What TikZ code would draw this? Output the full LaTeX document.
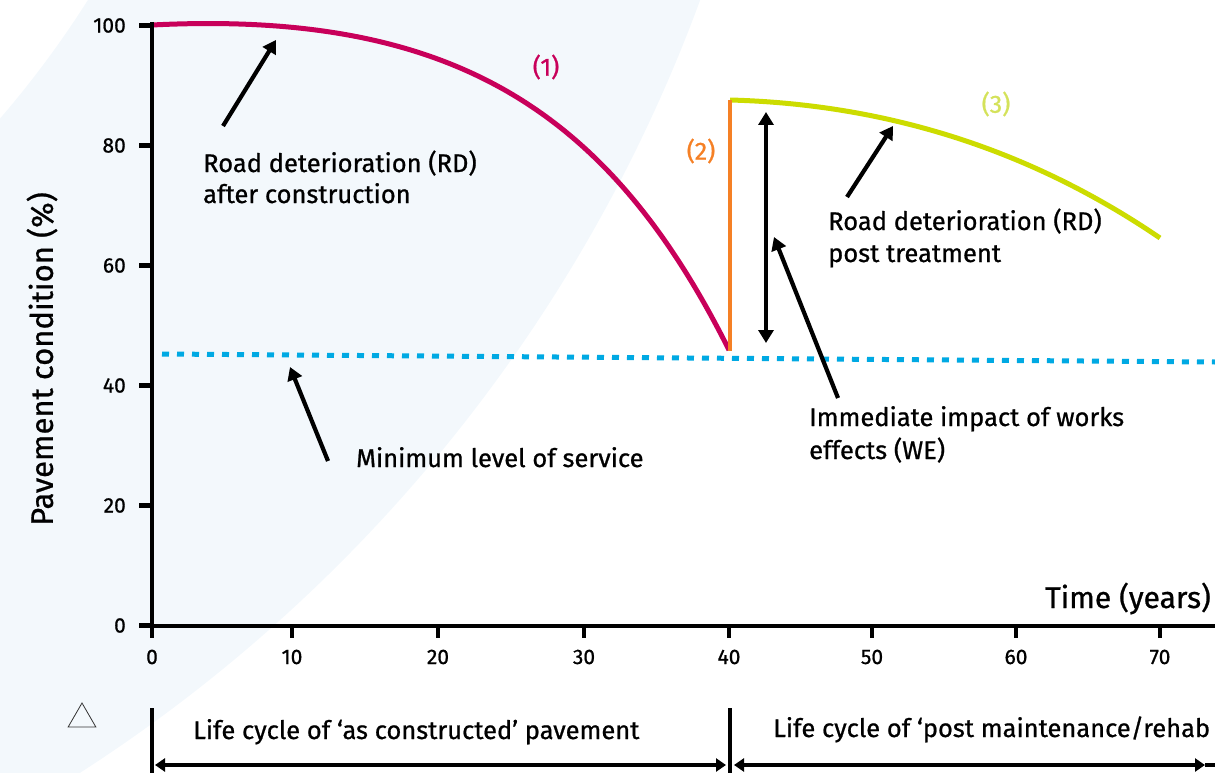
\documentclass[tikz,border=0pt]{standalone}
\usepackage{fontspec}
\setmainfont{Fira Sans}[FakeBold=0.8]
\usetikzlibrary{arrows.meta,shapes.geometric}
\definecolor{bandblue}{RGB}{243,248,252}
\definecolor{magentac}{RGB}{200,0,90}
\definecolor{orangec}{RGB}{245,128,37}
\definecolor{limec}{RGB}{204,220,0}
\definecolor{limelbl}{RGB}{212,226,90}
\definecolor{bluec}{RGB}{0,169,227}
\begin{document}
\begin{tikzpicture}[x=1pt,y=-1pt,
  lbl/.style={font=\fontsize{25.5}{30}\selectfont, inner sep=0pt, anchor=base west},
  ticklbl/.style={font=\fontsize{21}{25}\selectfont, inner sep=0pt},
  axis/.style={line width=4.5pt},
  pointer/.style={line width=4.2pt, -{Triangle[length=13pt,width=15pt]}},
  dbl/.style={line width=4.2pt, {Triangle[length=13pt,width=15pt]}-{Triangle[length=13pt,width=15pt]}},
  span/.style={line width=4pt, {Triangle[length=10pt,width=13pt]}-{Triangle[length=10pt,width=13pt]}},
  curve/.style={line width=5pt}]
\useasboundingbox (0,0) rectangle (1215,773);
\begin{scope}
\clip (0,0) rectangle (1215,773);
\fill[bandblue, even odd rule] (-760,-536) circle[radius=1555] (-760,-536) circle[radius=1003];

% min level of service
\draw[bluec, line width=5pt, dash pattern=on 7pt off 8pt] (162,354) -- (1215,362);

% curves
\draw[magentac, curve] (152,25) .. controls (452,10) and (609,110) .. (729,350);
\draw[limec, curve] (730,100) .. controls (880,104) and (1025,146) .. (1160,238);
\draw[orangec, line width=4.5pt] (730,100) -- (730,351);

% axes
\draw[axis] (152,22) -- (152,628);
\draw[axis] (140,626) -- (1215,626);
\foreach \v/\yy in {100/25.5,80/145.5,60/265.5,40/385.5,20/505.5,0/625.5}{
  \draw[axis] (139,\yy) -- (152,\yy);
  \node[ticklbl, anchor=east] (yt\v) at (126,\yy) {\v};
}
\foreach \v/\xx in {0/152,10/292,20/438,30/584,40/729,50/872,60/1016,70/1160}{
  \draw[axis] (\xx,626) -- (\xx,638);
  \node[ticklbl] (xt\v) at (\xx,657) {\v};
}
\node[font=\fontsize{31}{36}\selectfont, rotate=90, inner sep=0pt] (ylab) at (42,359) {Pavement condition (\%)};
\node[font=\fontsize{30}{36}\selectfont, inner sep=0pt, anchor=base west] (xlab) at (1045,608) {Time (years)};

% curve labels
\node[font=\fontsize{25}{30}\selectfont, text=magentac, inner sep=0pt] (c1) at (546,67) {(1)};
\node[font=\fontsize{25}{30}\selectfont, text=orangec, inner sep=0pt] (c2) at (701,151) {(2)};
\node[font=\fontsize{25}{30}\selectfont, text=limelbl, inner sep=0pt] (c3) at (996,104) {(3)};

% annotations
\node[lbl] (rd1a) at (203,172) {Road deterioration (RD)};
\node[lbl] (rd1b) at (203,203) {after construction};
\node[lbl] (mls) at (356,467) {Minimum level of service};
\node[lbl] (rd2a) at (828,230) {Road deterioration (RD)};
\node[lbl] (rd2b) at (828,262) {post treatment};
\node[lbl] (wea) at (809,426) {Immediate impact of works};
\node[lbl] (web) at (809,459) {effects (WE)};

\coordinate (p1s) at (223,126); \coordinate (p1e) at (276,40);
\coordinate (p2s) at (328,461); \coordinate (p2e) at (290,367);
\coordinate (p3s) at (847,197); \coordinate (p3e) at (893,126);
\coordinate (p4s) at (838,398); \coordinate (p4e) at (774,237);
\coordinate (dTop) at (766,112); \coordinate (dBot) at (766,343);
\draw[pointer] (p1s) -- (p1e);
\draw[pointer] (p2s) -- (p2e);
\draw[pointer] (p3s) -- (p3e);
\draw[pointer] (p4s) -- (p4e);
\draw[dbl] (dTop) -- (dBot);

% life cycle spans
\coordinate (b1t) at (152,708); \coordinate (b1b) at (152,773);
\coordinate (b2t) at (730,708); \coordinate (b2b) at (730,773);
\draw[line width=4pt] (b1t) -- (b1b);
\draw[line width=4pt] (b2t) -- (b2b);
\coordinate (s1l) at (155,765); \coordinate (s1r) at (726,765);
\coordinate (s2l) at (734,765); \coordinate (s2r) at (1205,765);
\coordinate (s2e) at (1215,765);
\draw[span] (s1l) -- (s1r);
\draw[span] (s2l) -- (s2r);
\draw[line width=4pt] (s2r) -- (s2e);
\node[lbl] (lc1) at (193,739) {Life cycle of ‘as constructed’ pavement};
\node[lbl] (lc2) at (773,737) {Life cycle of ‘post maintenance/rehab};

\node[draw=black!80, line width=0.8pt, regular polygon, regular polygon sides=3, minimum size=32pt, inner sep=0pt] (tri) at (82,719) {};
\end{scope}
\end{tikzpicture}
\end{document}
